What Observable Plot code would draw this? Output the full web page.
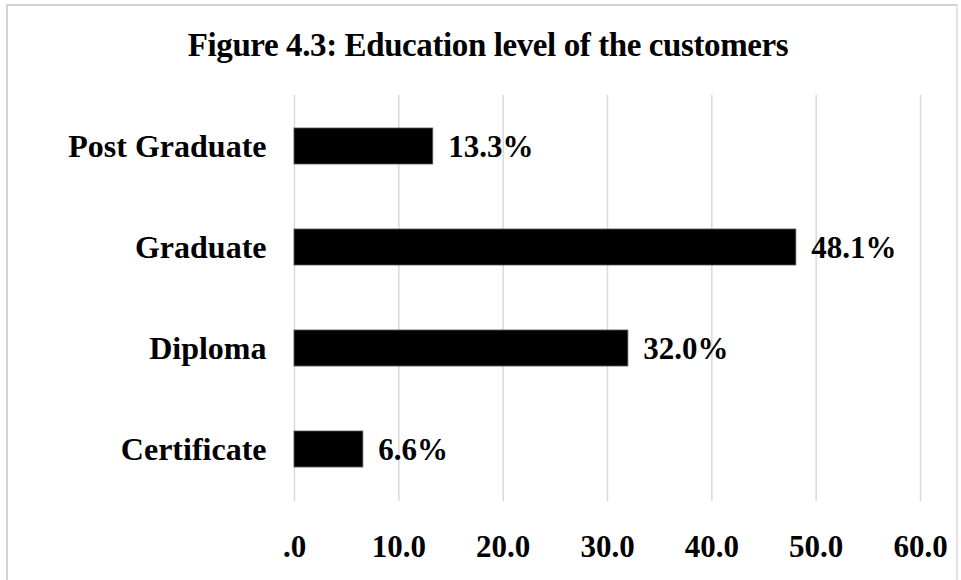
<!DOCTYPE html>
<html>
<head>
<meta charset="utf-8">
<script src="https://cdn.jsdelivr.net/npm/d3@7"></script>
<script src="https://cdn.jsdelivr.net/npm/@observablehq/plot@0.6"></script>
<style>
  html, body { margin: 0; padding: 0; background: #fff; }
  #frame {
    position: absolute; left: 6px; top: 4px; width: 952px; height: 590px;
    border-left: 2px solid #d4d4d4; border-top: 2px solid #d4d4d4; border-right: 2px solid #e4e4e4;
    box-sizing: border-box;
  }
  #title {
    position: absolute; left: 0; top: 25px; width: 976px; text-align: center;
    font-family: "Liberation Serif", "Times New Roman", serif; font-weight: bold;
    font-size: 33px; line-height: 40px; color: #000; letter-spacing: -0.4px;
  }
  #chart { position: absolute; left: 0; top: 0; }
</style>
</head>
<body>
<div id="frame"></div>
<div id="title">Figure 4.3: Education level of the customers</div>
<div id="chart"></div>
<script>
const categories = ["Post Graduate", "Graduate", "Diploma", "Certificate"];
const percents = [13.3, 48.1, 32.0, 6.6];
const tickValues = [0, 10, 20, 30, 40, 50, 60];
const tickLabels = [".0", "10.0", "20.0", "30.0", "40.0", "50.0", "60.0"];

const data = categories.map((c, i) => ({category: c, value: percents[i]}));
const font = "'Liberation Serif', 'Times New Roman', serif";
const fmt = (d) => tickLabels[tickValues.indexOf(d)];

const chart = Plot.plot({
  width: 961,
  height: 580,
  marginLeft: 294,
  marginRight: 41,
  marginTop: 95,
  marginBottom: 79,
  style: {fontFamily: font, fontWeight: "bold", fontSize: "22px", color: "#000", background: "transparent"},
  x: {domain: [0, 60], ticks: tickValues, tickFormat: fmt, label: null},
  y: {domain: categories, paddingInner: 0.64, paddingOuter: 0.32, label: null},
  marks: [
    Plot.gridX(tickValues, {stroke: "#d9d9d9", strokeOpacity: 1, strokeWidth: 1.5}),
    Plot.barX(data, {x: "value", y: "category", fill: "#000", stroke: "#555", strokeWidth: 0.8}),
    Plot.text(data, {x: "value", y: "category", text: (d) => d.value.toFixed(1) + "%", textAnchor: "start", dx: 15, dy: 1, fontSize: 31, fontWeight: "bold", fill: "#000"}),
    Plot.axisY({tickSize: 0, tickPadding: 28, fontSize: 32, fontWeight: "bold", label: null}),
    Plot.axisX(tickValues, {tickSize: 0, tickPadding: 33, fontSize: 31, fontWeight: "bold", label: null, tickFormat: fmt})
  ]
});
document.getElementById("chart").appendChild(chart);
</script>
</body>
</html>
